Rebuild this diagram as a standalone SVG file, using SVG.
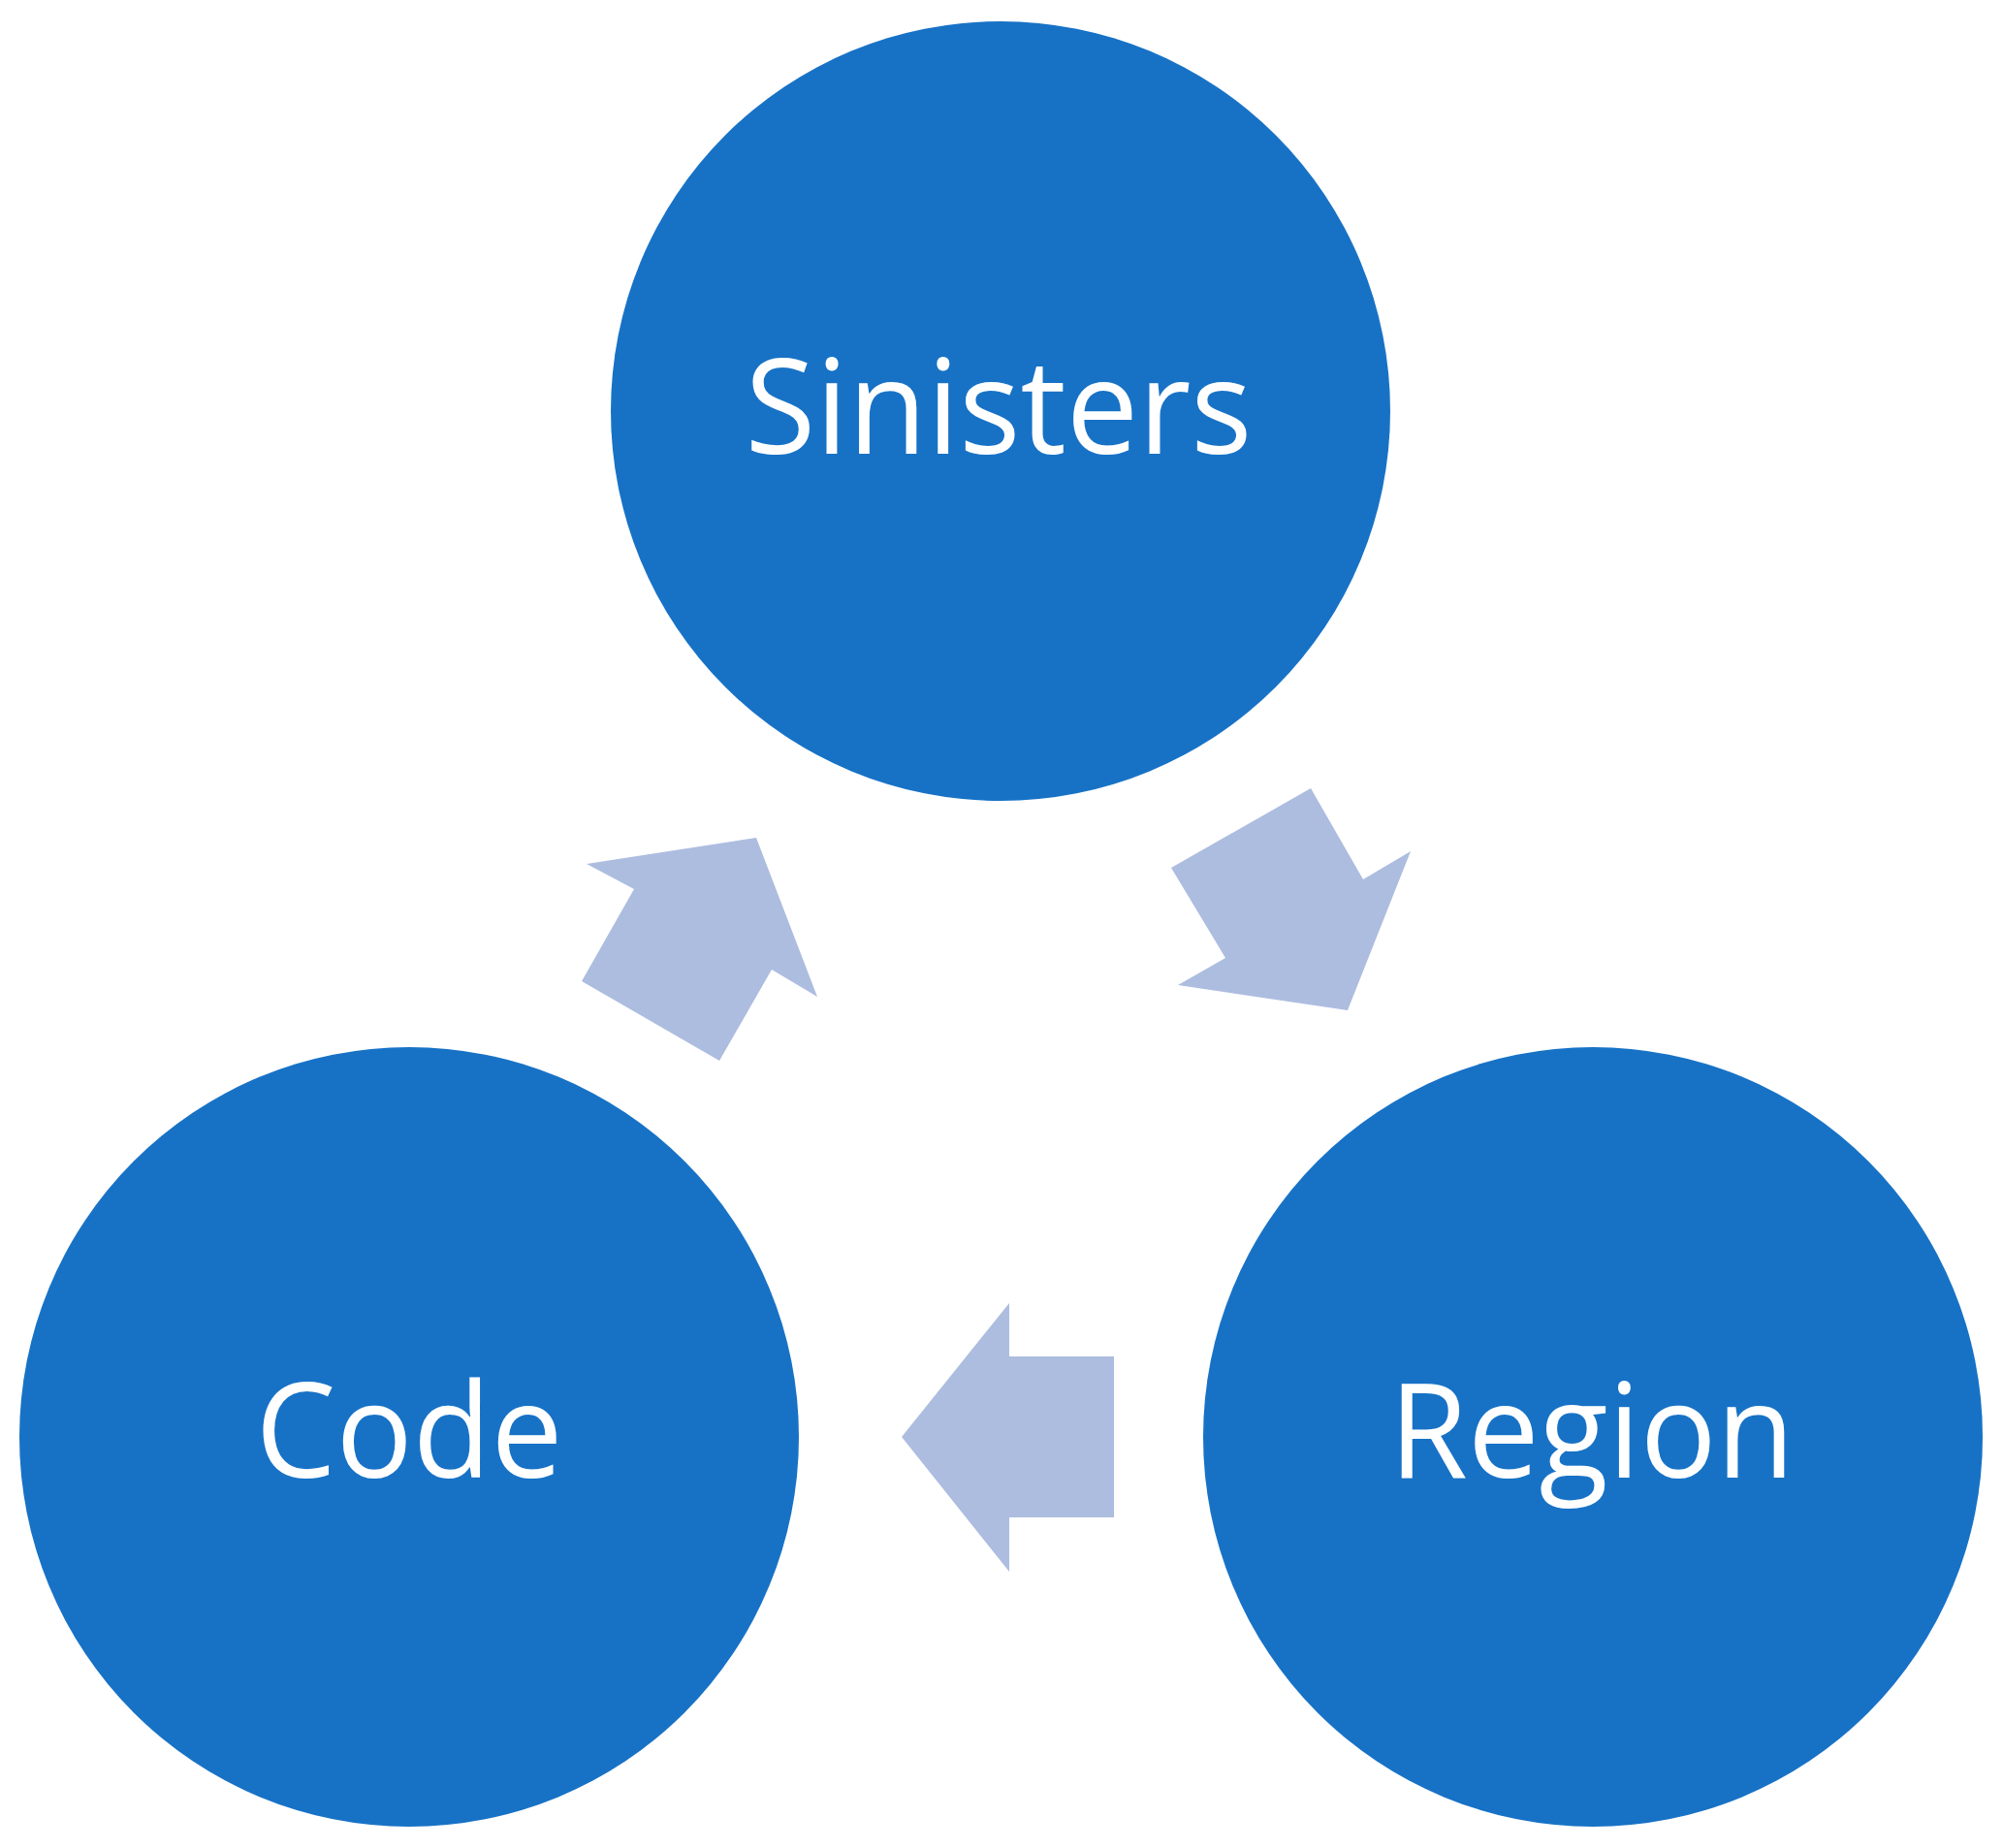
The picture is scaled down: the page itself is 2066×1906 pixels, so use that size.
<svg xmlns="http://www.w3.org/2000/svg" width="2066" height="1906" viewBox="0 0 2066 1906">
<style>
.n{fill:#1772C6}
.a{fill:#ADBDDF}
.t{fill:#fff;font-family:"Open Sans","Noto Sans",sans-serif;font-size:136px;text-anchor:middle}
</style>
<rect width="2066" height="1906" fill="#fff"/>
<g id="connectors">
<polygon class="a" points="605,891 780,864 843,1028 796,1000 742,1094 600,1012 654,917"/>
<polygon class="a" points="1352,813 1406,907 1455,878 1390,1042 1215,1016 1264,988 1208,895"/>
<polygon class="a" points="1149,1399 1041,1399 1041,1344 930,1482 1041,1621 1041,1565 1149,1565"/>
</g>
<g id="sinisters"><circle class="n" cx="1032" cy="424" r="402"/><text class="t" x="1030" y="468" textLength="523" lengthAdjust="spacingAndGlyphs">Sinisters</text></g>
<g id="code"><circle class="n" cx="422" cy="1482" r="402"/><text class="t" x="422" y="1524" textLength="317" lengthAdjust="spacingAndGlyphs">Code</text></g>
<g id="region"><circle class="n" cx="1643" cy="1482" r="402"/><text class="t" x="1642" y="1524" textLength="418" lengthAdjust="spacingAndGlyphs">Region</text></g>
</svg>
